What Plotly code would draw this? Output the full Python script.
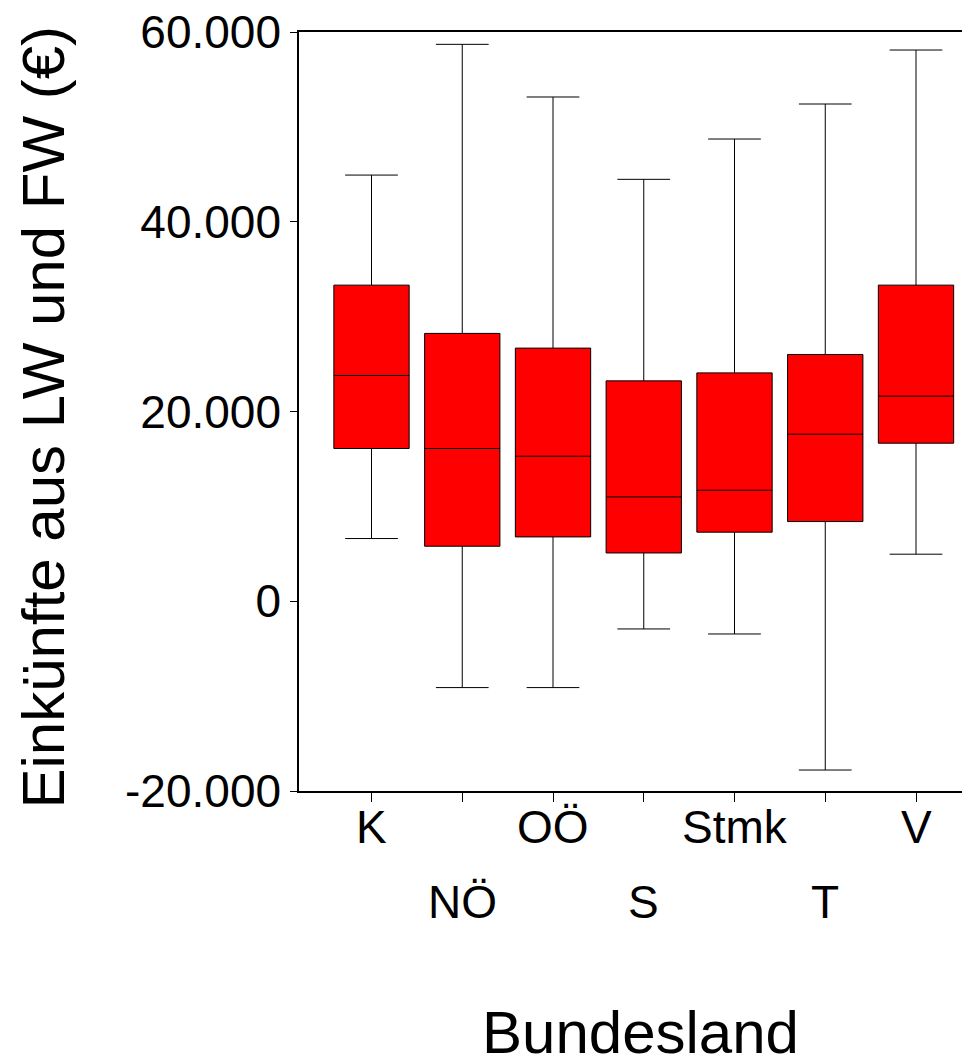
import plotly.graph_objects as go

categories = ["K", "NÖ", "OÖ", "S", "Stmk", "T", "V"]
lower_fence = [6610, -9100, -9100, -2920, -3450, -17790, 4960]
q1_vals = [16100, 5800, 6780, 5090, 7280, 8400, 16660]
median_vals = [23800, 16100, 15290, 11000, 11700, 17610, 21620]
q3_vals = [33320, 28230, 26680, 23230, 24070, 26010, 33320]
upper_fence = [44920, 58700, 53150, 44470, 48720, 52410, 58100]

y_tick_vals = [-20000, 0, 20000, 40000, 60000]
y_tick_text = ["-20.000", "0", "20.000", "40.000", "60.000"]

x_title = "Bundesland"
y_title = "Einkünfte aus LW und FW (€)"

FONT = "Liberation Sans, Arial, sans-serif"
xpos = list(range(len(categories)))

# figure geometry (page has an 8px body offset)
W, H = 962, 1049
L, T, B = 291, 24, 266
plot_w = W - L
plot_h = H - T - B

fig = go.Figure()
fig.add_trace(go.Box(
    x=xpos,
    q1=q1_vals, median=median_vals, q3=q3_vals,
    lowerfence=lower_fence, upperfence=upper_fence,
    boxpoints=False,
    fillcolor="#FF0000",
    line=dict(color="black", width=1),
    width=0.83,
    whiskerwidth=0.70,
    showlegend=False,
))

annotations = []
for i, c in enumerate(categories):
    annotations.append(dict(
        x=i, xref="x", y=0, yref="paper", text=c, showarrow=False,
        xanchor="center", yanchor="middle",
        yshift=-36 if i % 2 == 0 else -111,
        font=dict(family=FONT, size=46, color="black"),
    ))
annotations.append(dict(
    x=(632 - L) / plot_w, xref="paper", y=0, yref="paper", text=x_title,
    showarrow=False, xanchor="center", yanchor="middle", yshift=-241,
    borderpad=0,
    font=dict(family=FONT, size=60, color="black"),
))
annotations.append(dict(
    x=(35 - L) / plot_w, xref="paper", y=(T + plot_h - 409.5) / plot_h, yref="paper",
    text=y_title, textangle=-90, showarrow=False,
    xanchor="center", yanchor="middle",
    font=dict(family=FONT, size=60, color="black"),
))

fig.update_layout(
    width=W, height=H,
    margin=dict(l=L, r=0, t=T, b=B, autoexpand=False),
    paper_bgcolor="white", plot_bgcolor="white",
    font=dict(family=FONT, color="black"),
    annotations=annotations,
    xaxis=dict(
        range=[-0.799, 6.595],
        tickvals=xpos, showticklabels=False,
        ticks="outside", ticklen=9, tickwidth=1, tickcolor="black",
        showline=True, linecolor="black", linewidth=1.5, mirror=True,
        showgrid=False, zeroline=False,
    ),
    yaxis=dict(
        range=[-20000, 60000],
        tickvals=y_tick_vals, ticktext=y_tick_text,
        ticks="outside", ticklen=7, tickwidth=1, tickcolor="black",
        tickfont=dict(family=FONT, size=46, color="black"),
        ticklabelstandoff=0,
        ticklabeloverflow="allow",
        showline=True, linecolor="black", linewidth=1.5,
        showgrid=False, zeroline=False,
    ),
)

fig.write_html("out.html")
